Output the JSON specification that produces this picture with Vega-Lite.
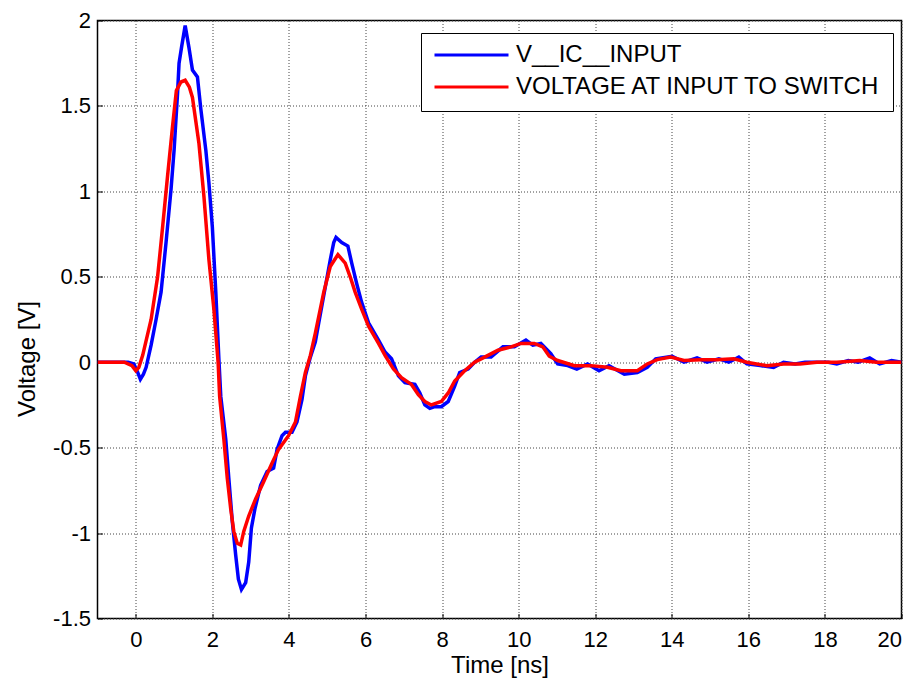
{
  "$schema": "https://vega.github.io/schema/vega-lite/v6.json",
  "autosize": {"type": "none"},
  "width": 804,
  "height": 598,
  "padding": {"left": 97.5, "top": 20.5, "right": 14.5, "bottom": 69.5},
  "background": "white",
  "config": {
    "font": "Liberation Sans",
    "view": {"stroke": "black", "strokeWidth": 1.5},
    "axis": {
      "domain": false,
      "grid": true,
      "gridColor": "#444",
      "gridDash": [1, 2],
      "gridWidth": 1,
      "tickSize": -5,
      "tickColor": "black",
      "tickWidth": 1,
      "labelColor": "black",
      "labelFontSize": 22,
      "labelFont": "Liberation Sans",
      "titleFont": "Liberation Sans",
      "titleFontSize": 24,
      "titleFontWeight": "normal",
      "titleColor": "black"
    }
  },
  "data": {
    "values": [
      {"t": -1, "v": 0, "s": "V__IC__INPUT"},
      {"t": -0.2, "v": 0, "s": "V__IC__INPUT"},
      {"t": -0.05, "v": -0.01, "s": "V__IC__INPUT"},
      {"t": 0.05, "v": -0.06, "s": "V__IC__INPUT"},
      {"t": 0.12, "v": -0.1, "s": "V__IC__INPUT"},
      {"t": 0.2, "v": -0.07, "s": "V__IC__INPUT"},
      {"t": 0.27, "v": -0.03, "s": "V__IC__INPUT"},
      {"t": 0.4, "v": 0.1, "s": "V__IC__INPUT"},
      {"t": 0.53, "v": 0.25, "s": "V__IC__INPUT"},
      {"t": 0.66, "v": 0.41, "s": "V__IC__INPUT"},
      {"t": 0.79, "v": 0.7, "s": "V__IC__INPUT"},
      {"t": 0.92, "v": 1.01, "s": "V__IC__INPUT"},
      {"t": 1.0, "v": 1.24, "s": "V__IC__INPUT"},
      {"t": 1.09, "v": 1.57, "s": "V__IC__INPUT"},
      {"t": 1.13, "v": 1.75, "s": "V__IC__INPUT"},
      {"t": 1.2, "v": 1.85, "s": "V__IC__INPUT"},
      {"t": 1.29, "v": 1.97, "s": "V__IC__INPUT"},
      {"t": 1.39, "v": 1.84, "s": "V__IC__INPUT"},
      {"t": 1.48, "v": 1.71, "s": "V__IC__INPUT"},
      {"t": 1.61, "v": 1.67, "s": "V__IC__INPUT"},
      {"t": 1.7, "v": 1.48, "s": "V__IC__INPUT"},
      {"t": 1.83, "v": 1.24, "s": "V__IC__INPUT"},
      {"t": 1.91, "v": 1.05, "s": "V__IC__INPUT"},
      {"t": 2.0, "v": 0.79, "s": "V__IC__INPUT"},
      {"t": 2.09, "v": 0.41, "s": "V__IC__INPUT"},
      {"t": 2.17, "v": 0.02, "s": "V__IC__INPUT"},
      {"t": 2.22, "v": -0.2, "s": "V__IC__INPUT"},
      {"t": 2.35, "v": -0.45, "s": "V__IC__INPUT"},
      {"t": 2.43, "v": -0.68, "s": "V__IC__INPUT"},
      {"t": 2.52, "v": -0.93, "s": "V__IC__INPUT"},
      {"t": 2.61, "v": -1.13, "s": "V__IC__INPUT"},
      {"t": 2.68, "v": -1.27, "s": "V__IC__INPUT"},
      {"t": 2.76, "v": -1.33, "s": "V__IC__INPUT"},
      {"t": 2.87, "v": -1.29, "s": "V__IC__INPUT"},
      {"t": 2.95, "v": -1.17, "s": "V__IC__INPUT"},
      {"t": 3.02, "v": -0.97, "s": "V__IC__INPUT"},
      {"t": 3.11, "v": -0.86, "s": "V__IC__INPUT"},
      {"t": 3.26, "v": -0.72, "s": "V__IC__INPUT"},
      {"t": 3.43, "v": -0.64, "s": "V__IC__INPUT"},
      {"t": 3.6, "v": -0.62, "s": "V__IC__INPUT"},
      {"t": 3.69, "v": -0.51, "s": "V__IC__INPUT"},
      {"t": 3.82, "v": -0.43, "s": "V__IC__INPUT"},
      {"t": 3.91, "v": -0.41, "s": "V__IC__INPUT"},
      {"t": 4.08, "v": -0.41, "s": "V__IC__INPUT"},
      {"t": 4.21, "v": -0.35, "s": "V__IC__INPUT"},
      {"t": 4.34, "v": -0.22, "s": "V__IC__INPUT"},
      {"t": 4.43, "v": -0.08, "s": "V__IC__INPUT"},
      {"t": 4.56, "v": 0.03, "s": "V__IC__INPUT"},
      {"t": 4.69, "v": 0.12, "s": "V__IC__INPUT"},
      {"t": 4.77, "v": 0.22, "s": "V__IC__INPUT"},
      {"t": 4.95, "v": 0.44, "s": "V__IC__INPUT"},
      {"t": 5.08, "v": 0.6, "s": "V__IC__INPUT"},
      {"t": 5.17, "v": 0.7, "s": "V__IC__INPUT"},
      {"t": 5.23, "v": 0.73, "s": "V__IC__INPUT"},
      {"t": 5.38, "v": 0.7, "s": "V__IC__INPUT"},
      {"t": 5.54, "v": 0.68, "s": "V__IC__INPUT"},
      {"t": 5.64, "v": 0.58, "s": "V__IC__INPUT"},
      {"t": 5.77, "v": 0.46, "s": "V__IC__INPUT"},
      {"t": 5.9, "v": 0.35, "s": "V__IC__INPUT"},
      {"t": 6.08, "v": 0.23, "s": "V__IC__INPUT"},
      {"t": 6.34, "v": 0.13, "s": "V__IC__INPUT"},
      {"t": 6.51, "v": 0.06, "s": "V__IC__INPUT"},
      {"t": 6.68, "v": 0.02, "s": "V__IC__INPUT"},
      {"t": 6.86, "v": -0.08, "s": "V__IC__INPUT"},
      {"t": 7.03, "v": -0.12, "s": "V__IC__INPUT"},
      {"t": 7.29, "v": -0.13, "s": "V__IC__INPUT"},
      {"t": 7.42, "v": -0.18, "s": "V__IC__INPUT"},
      {"t": 7.55, "v": -0.25, "s": "V__IC__INPUT"},
      {"t": 7.68, "v": -0.27, "s": "V__IC__INPUT"},
      {"t": 7.81, "v": -0.26, "s": "V__IC__INPUT"},
      {"t": 7.98, "v": -0.26, "s": "V__IC__INPUT"},
      {"t": 8.16, "v": -0.23, "s": "V__IC__INPUT"},
      {"t": 8.33, "v": -0.14, "s": "V__IC__INPUT"},
      {"t": 8.46, "v": -0.06, "s": "V__IC__INPUT"},
      {"t": 8.68, "v": -0.04, "s": "V__IC__INPUT"},
      {"t": 8.85, "v": 0.0, "s": "V__IC__INPUT"},
      {"t": 9.02, "v": 0.03, "s": "V__IC__INPUT"},
      {"t": 9.28, "v": 0.03, "s": "V__IC__INPUT"},
      {"t": 9.59, "v": 0.09, "s": "V__IC__INPUT"},
      {"t": 9.89, "v": 0.09, "s": "V__IC__INPUT"},
      {"t": 10.19, "v": 0.13, "s": "V__IC__INPUT"},
      {"t": 10.37, "v": 0.1, "s": "V__IC__INPUT"},
      {"t": 10.58, "v": 0.11, "s": "V__IC__INPUT"},
      {"t": 10.84, "v": 0.05, "s": "V__IC__INPUT"},
      {"t": 11.02, "v": -0.01, "s": "V__IC__INPUT"},
      {"t": 11.28, "v": -0.02, "s": "V__IC__INPUT"},
      {"t": 11.52, "v": -0.04, "s": "V__IC__INPUT"},
      {"t": 11.8, "v": -0.01, "s": "V__IC__INPUT"},
      {"t": 12.1, "v": -0.05, "s": "V__IC__INPUT"},
      {"t": 12.36, "v": -0.02, "s": "V__IC__INPUT"},
      {"t": 12.76, "v": -0.07, "s": "V__IC__INPUT"},
      {"t": 13.1, "v": -0.06, "s": "V__IC__INPUT"},
      {"t": 13.36, "v": -0.03, "s": "V__IC__INPUT"},
      {"t": 13.58, "v": 0.02, "s": "V__IC__INPUT"},
      {"t": 14.01, "v": 0.035, "s": "V__IC__INPUT"},
      {"t": 14.32, "v": 0.0, "s": "V__IC__INPUT"},
      {"t": 14.66, "v": 0.025, "s": "V__IC__INPUT"},
      {"t": 14.92, "v": 0.0, "s": "V__IC__INPUT"},
      {"t": 15.23, "v": 0.02, "s": "V__IC__INPUT"},
      {"t": 15.49, "v": 0.0, "s": "V__IC__INPUT"},
      {"t": 15.75, "v": 0.03, "s": "V__IC__INPUT"},
      {"t": 15.96, "v": -0.01, "s": "V__IC__INPUT"},
      {"t": 16.31, "v": -0.02, "s": "V__IC__INPUT"},
      {"t": 16.66, "v": -0.03, "s": "V__IC__INPUT"},
      {"t": 16.92, "v": 0.0, "s": "V__IC__INPUT"},
      {"t": 17.22, "v": -0.01, "s": "V__IC__INPUT"},
      {"t": 17.48, "v": 0.0, "s": "V__IC__INPUT"},
      {"t": 17.79, "v": 0.0, "s": "V__IC__INPUT"},
      {"t": 18.09, "v": 0.0, "s": "V__IC__INPUT"},
      {"t": 18.31, "v": -0.01, "s": "V__IC__INPUT"},
      {"t": 18.61, "v": 0.01, "s": "V__IC__INPUT"},
      {"t": 18.87, "v": 0.0, "s": "V__IC__INPUT"},
      {"t": 19.17, "v": 0.025, "s": "V__IC__INPUT"},
      {"t": 19.43, "v": -0.01, "s": "V__IC__INPUT"},
      {"t": 19.74, "v": 0.01, "s": "V__IC__INPUT"},
      {"t": 20, "v": 0, "s": "V__IC__INPUT"},
      {"t": -1, "v": 0, "s": "VOLTAGE AT INPUT TO SWITCH"},
      {"t": -0.3, "v": 0, "s": "VOLTAGE AT INPUT TO SWITCH"},
      {"t": -0.1, "v": -0.02, "s": "VOLTAGE AT INPUT TO SWITCH"},
      {"t": 0.0, "v": -0.05, "s": "VOLTAGE AT INPUT TO SWITCH"},
      {"t": 0.08, "v": -0.03, "s": "VOLTAGE AT INPUT TO SWITCH"},
      {"t": 0.18, "v": 0.04, "s": "VOLTAGE AT INPUT TO SWITCH"},
      {"t": 0.4, "v": 0.25, "s": "VOLTAGE AT INPUT TO SWITCH"},
      {"t": 0.57, "v": 0.5, "s": "VOLTAGE AT INPUT TO SWITCH"},
      {"t": 0.7, "v": 0.79, "s": "VOLTAGE AT INPUT TO SWITCH"},
      {"t": 0.83, "v": 1.09, "s": "VOLTAGE AT INPUT TO SWITCH"},
      {"t": 0.96, "v": 1.38, "s": "VOLTAGE AT INPUT TO SWITCH"},
      {"t": 1.06, "v": 1.59, "s": "VOLTAGE AT INPUT TO SWITCH"},
      {"t": 1.18, "v": 1.64, "s": "VOLTAGE AT INPUT TO SWITCH"},
      {"t": 1.29, "v": 1.65, "s": "VOLTAGE AT INPUT TO SWITCH"},
      {"t": 1.4, "v": 1.61, "s": "VOLTAGE AT INPUT TO SWITCH"},
      {"t": 1.48, "v": 1.55, "s": "VOLTAGE AT INPUT TO SWITCH"},
      {"t": 1.65, "v": 1.28, "s": "VOLTAGE AT INPUT TO SWITCH"},
      {"t": 1.78, "v": 0.97, "s": "VOLTAGE AT INPUT TO SWITCH"},
      {"t": 1.91, "v": 0.6, "s": "VOLTAGE AT INPUT TO SWITCH"},
      {"t": 2.04, "v": 0.31, "s": "VOLTAGE AT INPUT TO SWITCH"},
      {"t": 2.15, "v": 0.0, "s": "VOLTAGE AT INPUT TO SWITCH"},
      {"t": 2.19, "v": -0.2, "s": "VOLTAGE AT INPUT TO SWITCH"},
      {"t": 2.3, "v": -0.45, "s": "VOLTAGE AT INPUT TO SWITCH"},
      {"t": 2.39, "v": -0.68, "s": "VOLTAGE AT INPUT TO SWITCH"},
      {"t": 2.48, "v": -0.86, "s": "VOLTAGE AT INPUT TO SWITCH"},
      {"t": 2.56, "v": -0.99, "s": "VOLTAGE AT INPUT TO SWITCH"},
      {"t": 2.65, "v": -1.06, "s": "VOLTAGE AT INPUT TO SWITCH"},
      {"t": 2.74, "v": -1.07, "s": "VOLTAGE AT INPUT TO SWITCH"},
      {"t": 2.82, "v": -0.99, "s": "VOLTAGE AT INPUT TO SWITCH"},
      {"t": 2.95, "v": -0.9, "s": "VOLTAGE AT INPUT TO SWITCH"},
      {"t": 3.13, "v": -0.8, "s": "VOLTAGE AT INPUT TO SWITCH"},
      {"t": 3.34, "v": -0.7, "s": "VOLTAGE AT INPUT TO SWITCH"},
      {"t": 3.56, "v": -0.59, "s": "VOLTAGE AT INPUT TO SWITCH"},
      {"t": 3.73, "v": -0.51, "s": "VOLTAGE AT INPUT TO SWITCH"},
      {"t": 3.99, "v": -0.43, "s": "VOLTAGE AT INPUT TO SWITCH"},
      {"t": 4.17, "v": -0.35, "s": "VOLTAGE AT INPUT TO SWITCH"},
      {"t": 4.3, "v": -0.2, "s": "VOLTAGE AT INPUT TO SWITCH"},
      {"t": 4.43, "v": -0.06, "s": "VOLTAGE AT INPUT TO SWITCH"},
      {"t": 4.56, "v": 0.04, "s": "VOLTAGE AT INPUT TO SWITCH"},
      {"t": 4.69, "v": 0.17, "s": "VOLTAGE AT INPUT TO SWITCH"},
      {"t": 4.91, "v": 0.41, "s": "VOLTAGE AT INPUT TO SWITCH"},
      {"t": 5.08, "v": 0.56, "s": "VOLTAGE AT INPUT TO SWITCH"},
      {"t": 5.28, "v": 0.63, "s": "VOLTAGE AT INPUT TO SWITCH"},
      {"t": 5.47, "v": 0.58, "s": "VOLTAGE AT INPUT TO SWITCH"},
      {"t": 5.6, "v": 0.5, "s": "VOLTAGE AT INPUT TO SWITCH"},
      {"t": 5.73, "v": 0.41, "s": "VOLTAGE AT INPUT TO SWITCH"},
      {"t": 5.9, "v": 0.31, "s": "VOLTAGE AT INPUT TO SWITCH"},
      {"t": 6.08, "v": 0.21, "s": "VOLTAGE AT INPUT TO SWITCH"},
      {"t": 6.34, "v": 0.11, "s": "VOLTAGE AT INPUT TO SWITCH"},
      {"t": 6.51, "v": 0.04, "s": "VOLTAGE AT INPUT TO SWITCH"},
      {"t": 6.73, "v": -0.04, "s": "VOLTAGE AT INPUT TO SWITCH"},
      {"t": 6.94, "v": -0.09, "s": "VOLTAGE AT INPUT TO SWITCH"},
      {"t": 7.2, "v": -0.13, "s": "VOLTAGE AT INPUT TO SWITCH"},
      {"t": 7.38, "v": -0.19, "s": "VOLTAGE AT INPUT TO SWITCH"},
      {"t": 7.55, "v": -0.23, "s": "VOLTAGE AT INPUT TO SWITCH"},
      {"t": 7.72, "v": -0.25, "s": "VOLTAGE AT INPUT TO SWITCH"},
      {"t": 7.98, "v": -0.23, "s": "VOLTAGE AT INPUT TO SWITCH"},
      {"t": 8.16, "v": -0.18, "s": "VOLTAGE AT INPUT TO SWITCH"},
      {"t": 8.33, "v": -0.11, "s": "VOLTAGE AT INPUT TO SWITCH"},
      {"t": 8.59, "v": -0.05, "s": "VOLTAGE AT INPUT TO SWITCH"},
      {"t": 8.85, "v": 0.0, "s": "VOLTAGE AT INPUT TO SWITCH"},
      {"t": 9.11, "v": 0.03, "s": "VOLTAGE AT INPUT TO SWITCH"},
      {"t": 9.46, "v": 0.07, "s": "VOLTAGE AT INPUT TO SWITCH"},
      {"t": 9.8, "v": 0.09, "s": "VOLTAGE AT INPUT TO SWITCH"},
      {"t": 10.06, "v": 0.11, "s": "VOLTAGE AT INPUT TO SWITCH"},
      {"t": 10.41, "v": 0.11, "s": "VOLTAGE AT INPUT TO SWITCH"},
      {"t": 10.63, "v": 0.09, "s": "VOLTAGE AT INPUT TO SWITCH"},
      {"t": 10.8, "v": 0.035, "s": "VOLTAGE AT INPUT TO SWITCH"},
      {"t": 11.02, "v": 0.01, "s": "VOLTAGE AT INPUT TO SWITCH"},
      {"t": 11.46, "v": -0.02, "s": "VOLTAGE AT INPUT TO SWITCH"},
      {"t": 11.89, "v": -0.02, "s": "VOLTAGE AT INPUT TO SWITCH"},
      {"t": 12.32, "v": -0.03, "s": "VOLTAGE AT INPUT TO SWITCH"},
      {"t": 12.67, "v": -0.05, "s": "VOLTAGE AT INPUT TO SWITCH"},
      {"t": 13.1, "v": -0.05, "s": "VOLTAGE AT INPUT TO SWITCH"},
      {"t": 13.36, "v": -0.01, "s": "VOLTAGE AT INPUT TO SWITCH"},
      {"t": 13.62, "v": 0.015, "s": "VOLTAGE AT INPUT TO SWITCH"},
      {"t": 13.97, "v": 0.03, "s": "VOLTAGE AT INPUT TO SWITCH"},
      {"t": 14.32, "v": 0.01, "s": "VOLTAGE AT INPUT TO SWITCH"},
      {"t": 14.75, "v": 0.015, "s": "VOLTAGE AT INPUT TO SWITCH"},
      {"t": 15.18, "v": 0.015, "s": "VOLTAGE AT INPUT TO SWITCH"},
      {"t": 15.62, "v": 0.02, "s": "VOLTAGE AT INPUT TO SWITCH"},
      {"t": 15.96, "v": 0.0, "s": "VOLTAGE AT INPUT TO SWITCH"},
      {"t": 16.48, "v": -0.02, "s": "VOLTAGE AT INPUT TO SWITCH"},
      {"t": 16.92, "v": -0.01, "s": "VOLTAGE AT INPUT TO SWITCH"},
      {"t": 17.35, "v": -0.01, "s": "VOLTAGE AT INPUT TO SWITCH"},
      {"t": 17.79, "v": 0.0, "s": "VOLTAGE AT INPUT TO SWITCH"},
      {"t": 18.31, "v": 0.0, "s": "VOLTAGE AT INPUT TO SWITCH"},
      {"t": 18.91, "v": 0.01, "s": "VOLTAGE AT INPUT TO SWITCH"},
      {"t": 19.35, "v": 0.0, "s": "VOLTAGE AT INPUT TO SWITCH"},
      {"t": 20, "v": 0, "s": "VOLTAGE AT INPUT TO SWITCH"}
    ]
  },
  "mark": {"type": "line", "strokeWidth": 3.5, "clip": true},
  "encoding": {
    "x": {
      "field": "t",
      "type": "quantitative",
      "scale": {"domain": [-1, 20], "nice": false, "zero": false},
      "axis": {
        "title": "Time [ns]",
        "values": [0, 2, 4, 6, 8, 10, 12, 14, 16, 18, 20],
        "labelPadding": 16,
        "titlePadding": 3
      }
    },
    "y": {
      "field": "v",
      "type": "quantitative",
      "scale": {"domain": [-1.5, 2], "nice": false, "zero": false},
      "axis": {
        "title": "Voltage [V]",
        "values": [-1.5, -1, -0.5, 0, 0.5, 1, 1.5, 2],
        "labelExpr": "replace(format(datum.value, '~g'), '\u2212', '-')",
        "labelPadding": 12,
        "titleX": -70,
        "titleY": 338,
        "titleBaseline": "middle"
      }
    },
    "color": {
      "field": "s",
      "type": "nominal",
      "sort": ["V__IC__INPUT", "VOLTAGE AT INPUT TO SWITCH"],
      "scale": {"domain": ["V__IC__INPUT", "VOLTAGE AT INPUT TO SWITCH"], "range": ["#0000ff", "#ff0000"]},
      "legend": {
        "orient": "none",
        "legendX": 323.5,
        "legendY": 12.5,
        "title": null,
        "symbolType": "stroke",
        "symbolSize": 5476,
        "symbolStrokeWidth": 3,
        "clipHeight": 20,
        "labelFontSize": 24,
        "labelFont": "Liberation Sans",
        "labelColor": "black",
        "labelLimit": 500,
        "padding": 12,
        "rowPadding": 8,
        "labelOffset": 6,
        "strokeColor": "black",
        "fillColor": "white"
      }
    }
  }
}
